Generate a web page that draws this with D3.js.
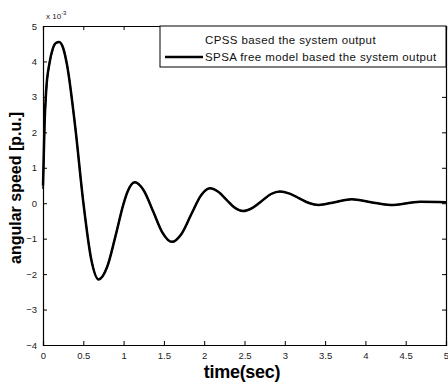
<!DOCTYPE html>
<html>
<head>
<meta charset="utf-8">
<script src="https://cdn.jsdelivr.net/npm/d3@7"></script>
<style>
  body { margin: 0; background: #fff; }
  svg { display: block; font-family: "Liberation Sans", Arial, sans-serif; }
</style>
</head>
<body>
<svg id="chart"></svg>
<script>
// time axis (sec) and angular speed values (x 10^-3 p.u.)
const timeSec = [0, 0.02, 0.04, 0.08, 0.12, 0.16, 0.2, 0.25, 0.3, 0.4, 0.5, 0.6, 0.69, 0.8, 0.9, 1.0, 1.05, 1.14,
    1.25, 1.37, 1.48, 1.6, 1.72, 1.84, 1.96, 2.07, 2.17, 2.28, 2.38, 2.48, 2.6, 2.71, 2.83, 2.94,
    3.06, 3.18, 3.3, 3.42, 3.62, 3.83, 4.07, 4.31, 4.68, 5.0];
const spsaValues = [0.5, 2.3, 3.2, 3.95, 4.35, 4.52, 4.55, 4.38, 3.88, 2.15, 0.03, -1.6, -2.15, -1.77, -0.92, -0.01, 0.33, 0.59,
    0.36, -0.25, -0.82, -1.09, -0.86, -0.31, 0.22, 0.42, 0.33, 0.09, -0.13, -0.22, -0.13, 0.055, 0.26, 0.33,
    0.27, 0.14, 0.005, -0.05, 0.03, 0.11, 0.03, -0.05, 0.04, 0.03];
const cpssValues = [0.4, 2.2, 3.15, 3.93, 4.34, 4.52, 4.55, 4.38, 3.88, 2.15, 0.03, -1.6, -2.15, -1.77, -0.92, -0.01, 0.33, 0.59,
    0.36, -0.25, -0.82, -1.09, -0.86, -0.31, 0.22, 0.42, 0.33, 0.09, -0.13, -0.22, -0.13, 0.055, 0.26, 0.33,
    0.27, 0.14, 0.005, -0.05, 0.03, 0.11, 0.03, -0.05, 0.04, 0.03];
const xTicks = [0, 0.5, 1, 1.5, 2, 2.5, 3, 3.5, 4, 4.5, 5];
const yTicks = [-4, -3, -2, -1, 0, 1, 2, 3, 4, 5];
const legendLabels = ["CPSS based the system output", "SPSA free model based the system output"];

const W = 448, H = 385;
const margin = { top: 26, right: 2, bottom: 40, left: 43 };
const width = W - margin.left - margin.right;
const height = H - margin.top - margin.bottom;

const svg = d3.select("#chart").attr("width", W).attr("height", H);
const g = svg.append("g").attr("transform", `translate(${margin.left},${margin.top})`);

const x = d3.scaleLinear().domain([0, 5]).range([0, width]);
const y = d3.scaleLinear().domain([-4, 5]).range([height, 0]);

// series
const cpss = timeSec.map((t, i) => ({ t: t, v: cpssValues[i] }));
const spsa = timeSec.map((t, i) => ({ t: t, v: spsaValues[i] }));
const line = d3.line().x(d => x(d.t)).y(d => y(d.v)).curve(d3.curveMonotoneX);

g.append("path").datum(cpss).attr("d", line)
    .attr("fill", "none").attr("stroke", "#000").attr("stroke-width", 1.5);
g.append("path").datum(spsa).attr("d", line)
    .attr("fill", "none").attr("stroke", "#000").attr("stroke-width", 2.5);

// axes with inward ticks on all sides
function styleAxis(sel) {
    sel.select(".domain").attr("stroke", "#000").attr("stroke-width", 1.2);
    sel.selectAll(".tick line").attr("stroke", "#000");
    sel.selectAll("text").attr("fill", "#222").style("font-size", "9.5px");
}
g.append("g").attr("transform", `translate(0,${height})`)
    .call(d3.axisBottom(x).tickValues(xTicks).tickSize(-4).tickPadding(7).tickFormat(d3.format("~g")))
    .call(styleAxis);
g.append("g")
    .call(d3.axisLeft(y).tickValues(yTicks).tickSize(-4).tickPadding(6).tickFormat(d3.format("d")))
    .call(styleAxis);
g.append("g")
    .call(d3.axisTop(x).tickValues(xTicks).tickSize(-4).tickFormat(""))
    .call(styleAxis);
g.append("g").attr("transform", `translate(${width},0)`)
    .call(d3.axisRight(y).tickValues(yTicks).tickSize(-4).tickFormat(""))
    .call(styleAxis);

// exponent
const expo = svg.append("text").attr("x", margin.left + 3).attr("y", 19)
    .style("font-size", "8px").attr("fill", "#222");
expo.append("tspan").text("x 10");
expo.append("tspan").attr("dy", -4).style("font-size", "6px").text("-3");

// axis titles
svg.append("text")
    .attr("transform", "translate(21,188) rotate(-90)")
    .attr("text-anchor", "middle")
    .style("font-size", "16px").style("font-weight", "bold")
    .text("angular speed [p.u.]");
svg.append("text")
    .attr("x", 242).attr("y", 378)
    .attr("text-anchor", "middle")
    .style("font-size", "18px").style("font-weight", "bold").style("letter-spacing", "-0.3px")
    .text("time(sec)");

// legend
const legend = g.append("g").attr("transform", `translate(${160 - margin.left},0)`);
legend.append("rect")
    .attr("width", width - (160 - margin.left)).attr("height", 41)
    .attr("fill", "#fff").attr("stroke", "#000").attr("stroke-width", 1);
legend.append("text").attr("x", 45).attr("y", 18)
    .style("font-size", "11.5px").style("letter-spacing", "0.4px").attr("fill", "#111").text(legendLabels[0]);
legend.append("line").attr("x1", 5).attr("x2", 43).attr("y1", 31).attr("y2", 31)
    .attr("stroke", "#000").attr("stroke-width", 2.5);
legend.append("text").attr("x", 45).attr("y", 35)
    .style("font-size", "11.5px").style("letter-spacing", "0.4px").attr("fill", "#111").text(legendLabels[1]);
</script>
</body>
</html>
